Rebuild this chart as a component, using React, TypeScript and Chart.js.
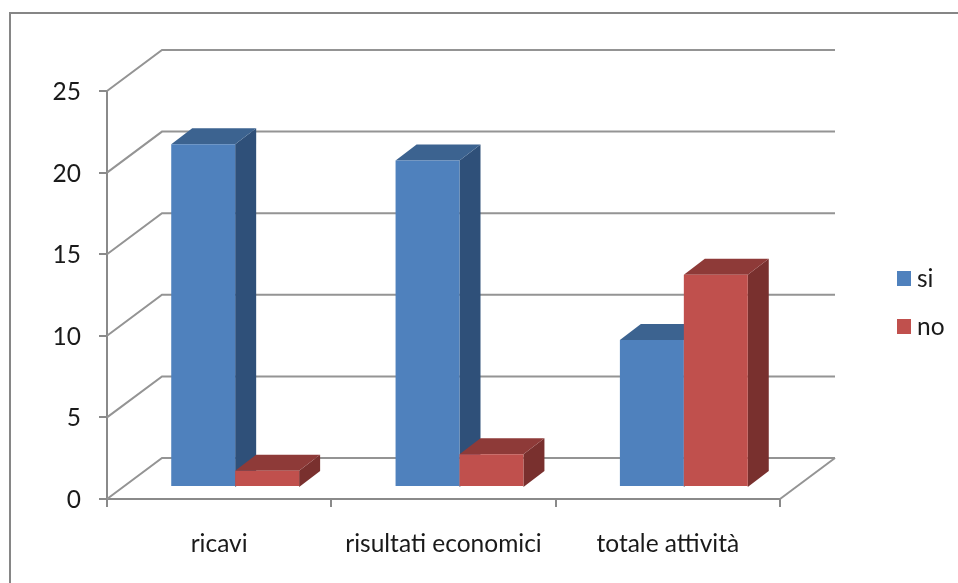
import React, { useEffect, useRef } from "react";
import { Chart, registerables } from "chart.js";

Chart.register(...registerables);

const categories = ["ricavi", "risultati economici", "totale attività"];
const siValues = [21, 20, 9];
const noValues = [1, 2, 13];
const seriesNames = ["si", "no"];
const yTicks = [0, 5, 10, 15, 20, 25];

const FONT = "Lato, Carlito, sans-serif";
const FONT_SIZE = 24.5;
const TEXT = "#1a1a1a";
const AXIS_GREY = "#8a8a8a";
const BLUE = { front: "#4f81bd", top: "#3c6390", side: "#2f5079" };
const RED = { front: "#c0504d", top: "#8e3a38", side: "#79302e" };
const PALETTES = [BLUE, RED];

// Depth of the box the plot stands in, and of each column.
const WALL_DX = 55;
const WALL_DY = -41;
const PLANE_DX = 16;
const PLANE_DY = -12;
const BAR_DX = 21;
const BAR_DY = -16;

// Side and top faces of every column in one series.
function drawBarFaces(chart: any, meta: any, colours: any) {
  const { ctx } = chart;
  const base = chart.scales.y.getPixelForValue(0);
  for (const bar of meta.data) {
    const l = bar.x - bar.width / 2;
    const r = bar.x + bar.width / 2;
    const t = bar.y;
    ctx.fillStyle = colours.side;
    ctx.beginPath();
    ctx.moveTo(r, t);
    ctx.lineTo(r + BAR_DX, t + BAR_DY);
    ctx.lineTo(r + BAR_DX, base + BAR_DY);
    ctx.lineTo(r, base);
    ctx.closePath();
    ctx.fill();
    ctx.fillStyle = colours.top;
    ctx.beginPath();
    ctx.moveTo(l, t);
    ctx.lineTo(l + BAR_DX, t + BAR_DY);
    ctx.lineTo(r + BAR_DX, t + BAR_DY);
    ctx.lineTo(r, t);
    ctx.closePath();
    ctx.fill();
  }
}

const box3dPlugin = {
  id: "box3d",
  beforeDatasetsDraw(chart: any) {
    const { ctx, scales } = chart;
    const { x: xs, y: ys } = scales;
    const left = xs.left;
    const right = xs.right;
    // Back wall, side wall and floor, taken from the value axis.
    ctx.save();
    ctx.strokeStyle = "#949494";
    ctx.lineWidth = 2;
    for (const v of yTicks) {
      const py = ys.getPixelForValue(v);
      ctx.beginPath();
      ctx.moveTo(left, py);
      ctx.lineTo(left + WALL_DX, py + WALL_DY);
      ctx.lineTo(right + WALL_DX, py + WALL_DY);
      ctx.stroke();
    }
    const base = ys.getPixelForValue(0);
    ctx.beginPath();
    ctx.moveTo(right, base);
    ctx.lineTo(right + WALL_DX, base + WALL_DY);
    ctx.stroke();
    ctx.restore();
    // Columns stand on a plane set back from the front edge of the floor,
    // painted left to right so each one overlaps its left-hand neighbour.
    ctx.save();
    ctx.translate(PLANE_DX, PLANE_DY);
    chart.data.datasets.forEach((_: any, i: number) => {
      const meta = chart.getDatasetMeta(i);
      drawBarFaces(chart, meta, PALETTES[i]);
      meta.controller.draw();
    });
    ctx.restore();
  },
  // The columns are already painted above, in the required order.
  beforeDatasetDraw() {
    return false;
  },
  afterDraw(chart: any) {
    const { ctx } = chart;
    ctx.save();
    // Frame of the chart object: only its top and left edges fall on the page.
    ctx.strokeStyle = "#868686";
    ctx.lineWidth = 2;
    ctx.beginPath();
    ctx.moveTo(10, chart.height);
    ctx.lineTo(10, 13);
    ctx.lineTo(chart.width, 13);
    ctx.stroke();
    // Legend, drawn by hand for its tight swatch-to-text gap.
    ctx.font = `${FONT_SIZE}px ${FONT}`;
    ctx.textBaseline = "middle";
    chart.data.datasets.forEach((ds: any, i: number) => {
      const top = 271 + i * 48;
      ctx.fillStyle = ds.backgroundColor;
      ctx.fillRect(897, top, 14, 15);
      ctx.fillStyle = TEXT;
      ctx.fillText(ds.label, 917, top + 8);
    });
    ctx.restore();
  },
};

export default function App() {
  const ref = useRef<HTMLCanvasElement>(null);
  useEffect(() => {
    const chart = new Chart(ref.current!, {
      type: "bar",
      data: {
        labels: categories,
        datasets: [
          { label: seriesNames[0], data: siValues, backgroundColor: BLUE.front },
          { label: seriesNames[1], data: noValues, backgroundColor: RED.front },
        ],
      },
      plugins: [box3dPlugin],
      options: {
        animation: false,
        responsive: false,
        devicePixelRatio: 1,
        layout: { padding: { top: 91, right: 178, left: 0, bottom: 0 }, autoPadding: false },
        datasets: { bar: { categoryPercentage: 0.57, barPercentage: 1, clip: false } },
        plugins: { legend: { display: false }, title: { display: false }, tooltip: { enabled: false } },
        scales: {
          x: {
            afterFit: (s: any) => { s.height = 84; },
            grid: { drawOnChartArea: false, drawTicks: true, tickLength: 8, color: AXIS_GREY, lineWidth: 2 },
            border: { display: true, color: AXIS_GREY, width: 2 },
            ticks: { color: TEXT, font: { family: FONT, size: FONT_SIZE }, padding: 22, maxRotation: 0, autoSkip: false },
          },
          y: {
            min: 0,
            max: 25,
            afterFit: (s: any) => { s.width = 107; },
            afterBuildTicks: (s: any) => { s.ticks = yTicks.map((value) => ({ value })); },
            grid: { drawOnChartArea: false, drawTicks: true, tickLength: 8, color: AXIS_GREY, lineWidth: 2 },
            border: { display: true, color: AXIS_GREY, width: 2 },
            ticks: { color: TEXT, font: { family: FONT, size: FONT_SIZE }, padding: 18, labelOffset: 1 },
          },
        },
      },
    } as any);
    return () => chart.destroy();
  }, []);
  return (
    <div style={{ position: "absolute", left: 0, top: 0, width: 958, height: 583, background: "#fff" }}>
      <canvas ref={ref} width={958} height={583} style={{ display: "block" }} />
    </div>
  );
}
